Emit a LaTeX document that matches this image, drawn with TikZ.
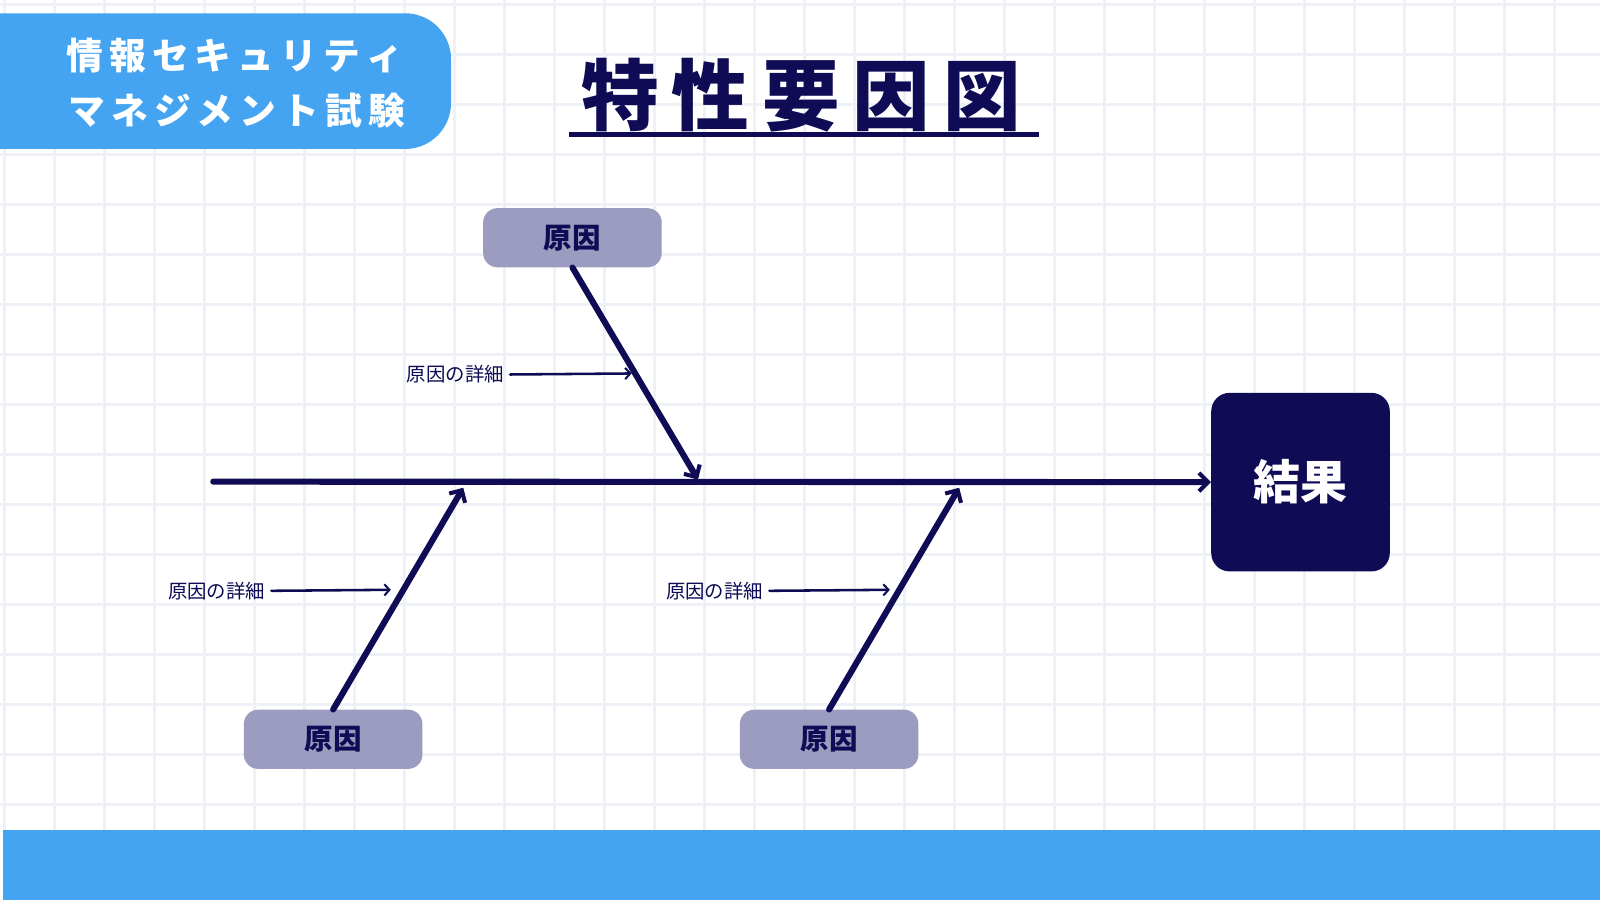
\documentclass[tikz,border=0pt]{standalone}
\usepackage{fontspec}
\newfontfamily\jp{Noto Sans CJK JP}
\newfontfamily\jpb{Noto Sans CJK JP Bold}
\usetikzlibrary{arrows.meta}
\definecolor{navy}{HTML}{0F0C55}
\definecolor{sky}{HTML}{45A4F2}
\definecolor{cause}{HTML}{9B9CBF}
\definecolor{gridc}{HTML}{EEF2F7}
\begin{document}
\begin{tikzpicture}[x=1pt,y=-1pt,
  cause/.style={fill=cause,rounded corners=14pt,minimum width=175pt,minimum height=58pt,inner sep=0,font=\jp\bfseries\fontsize{28}{30}\selectfont,text=navy},
  bone/.style={draw=navy,line width=6pt,line cap=round,-{Straight Barb[length=9pt,width=18pt,line width=4pt]}},
  det/.style={draw=navy,line width=2.5pt,line cap=round,-{Straight Barb[length=5pt,width=11pt,line width=2pt]}},
  dtext/.style={font=\jp\fontsize{19}{21}\selectfont,text=navy,inner sep=0}]
\useasboundingbox (0,0) rectangle (1568,882);
\fill[white] (0,0) rectangle (1568,882);
\foreach \x in {4,53,...,1568} \draw[gridc,line width=3pt] (\x,0) -- (\x,813);
\foreach \y in {4,53,...,813} \draw[gridc,line width=3pt] (0,\y) -- (1568,\y);
% badge
\fill[sky] (0,13) -- (397,13) arc[start angle=90,end angle=0,x radius=45,y radius=-45] -- (442,101) arc[start angle=0,end angle=-90,x radius=45,y radius=-45] -- (0,146) -- cycle;
\node[text=white,font=\jp\bfseries\fontsize{36}{38}\selectfont,inner sep=0] (b1) at (230,54) {情\,報\,セ\,キ\,ュ\,リ\,テ\,ィ};
\node[text=white,font=\jp\bfseries\fontsize{36}{38}\selectfont,inner sep=0] (b2) at (232,108) {マ\,ネ\,ジ\,メ\,ン\,ト\,試\,験};
% title
\node[text=navy,font=\jp\bfseries\fontsize{76}{80}\selectfont,inner sep=0] (title) at (785,93) {特\,性\,要\,因\,図};
\draw[navy,line width=5pt] (558,132) -- (1018,132);
% bottom bar
\fill[sky] (3,813) rectangle (1568,882);
% result
\node[fill=navy,rounded corners=18pt,minimum width=175pt,minimum height=175pt,inner sep=0,text=white,font=\jp\bfseries\fontsize{46}{48}\selectfont] (res) at (1274.5,472.5) {結果};
% causes
\node[cause] (c1) at (561,233) {原因};
\node[cause] (c2) at (326.5,724.5) {原因};
\node[cause] (c3) at (812.5,724.5) {原因};
\coordinate (s0) at (209,472);
\coordinate (t1) at (684,470);
\coordinate (t2) at (454,478);
\coordinate (t3) at (940,478);
\draw[bone] (s0) -- (res.west);
\draw[bone] (c1.south) -- (t1);
\draw[bone] (c2.north) -- (t2);
\draw[bone] (c3.north) -- (t3);
% details
\node[dtext,anchor=east] (d1) at (494,367) {原因の詳細};
\node[dtext,anchor=east] (d2) at (260,579) {原因の詳細};
\node[dtext,anchor=east] (d3) at (748,579) {原因の詳細};
\coordinate (e1) at (619,366);
\coordinate (e2) at (383,578);
\coordinate (e3) at (872,578);
\draw[det] ([xshift=6pt]d1.east) -- (e1);
\draw[det] ([xshift=6pt]d2.east) -- (e2);
\draw[det] ([xshift=6pt]d3.east) -- (e3);
\end{tikzpicture}
\end{document}
